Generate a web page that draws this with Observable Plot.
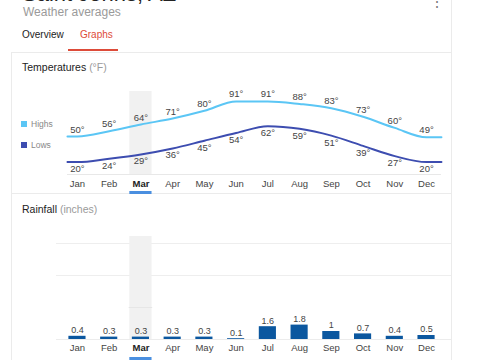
<!DOCTYPE html>
<html>
<head>
<meta charset="utf-8">
<script src="https://cdn.jsdelivr.net/npm/d3@7"></script>
<script src="https://cdn.jsdelivr.net/npm/@observablehq/plot@0.6"></script>
<style>
  html, body { margin: 0; padding: 0; background: #fff; }
  body { font-family: "Liberation Sans", Arial, sans-serif; }
  #page { position: relative; width: 480px; height: 360px; overflow: hidden; background: #fff; }
  .abs { position: absolute; white-space: nowrap; }
  #page svg { position: absolute; left: 0; overflow: visible; }
</style>
</head>
<body>
<div id="page">
  <div class="abs" style="left:22px; top:-19px; font-size:22px; color:#222;">Saint Johns, AZ</div>
  <div class="abs" style="left:430px; top:-6px; font-size:14px; color:#777;">⋮</div>
  <div class="abs" style="left:23px; top:5px; font-size:12px; color:#9a9a9a;">Weather averages</div>
  <div class="abs" style="left:22px; top:29px; font-size:10px; color:#222;">Overview</div>
  <div class="abs" style="left:80px; top:29px; font-size:10px; color:#dd4b39;">Graphs</div>
  <div class="abs" style="left:68px; top:49px; width:50px; height:2px; background:#dd4b39;"></div>
  <div class="abs" style="left:11px; top:52px; width:440px; height:1px; background:#ebebeb;"></div>
  <div class="abs" style="left:11px; top:52px; width:1px; height:308px; background:#ebebeb;"></div>
  <div class="abs" style="left:451px; top:0px; width:1px; height:360px; background:#ebebeb;"></div>
  <div class="abs" style="left:11px; top:193px; width:440px; height:1px; background:#ebebeb;"></div>

  <div class="abs" style="left:22px; top:61px; font-size:10.5px; color:#222;">Temperatures <span style="color:#9a9a9a">(°F)</span></div>
  <div class="abs" style="left:22px; top:203px; font-size:10.5px; color:#222;">Rainfall <span style="color:#9a9a9a">(inches)</span></div>

  <div id="legend"></div>
</div>
<script>
const months = ["Jan","Feb","Mar","Apr","May","Jun","Jul","Aug","Sep","Oct","Nov","Dec"];
const highs  = [50, 56, 64, 71, 80, 91, 91, 88, 83, 73, 60, 49];
const lows   = [20, 24, 29, 36, 45, 54, 62, 59, 51, 39, 27, 20];
const rain   = [0.4, 0.3, 0.3, 0.3, 0.3, 0.1, 1.6, 1.8, 1, 0.7, 0.4, 0.5];
const seriesNames = ["Highs", "Lows"];
const seriesColors = ["#5bc6f5", "#3d4db0"];
const selectedMonth = "Mar";
const rainGrid = [8, 12];

const font = '"Liberation Sans", Arial, sans-serif';
const page = document.getElementById("page");

const temp = months.map((m, i) => ({i, m, hi: highs[i], lo: lows[i]}));
const sel = temp.filter(d => d.m === selectedMonth);
const others = temp.filter(d => d.m !== selectedMonth);
const first = -0.315, last = 11.47;
const extend = (key) => [{i: first, v: temp[0][key]}, ...temp.map(d => ({i: d.i, v: d[key]})), {i: last, v: temp[temp.length - 1][key]}];

const xScale = {type: "linear", domain: [-0.5, 11.5], range: [61.1, 441.9], axis: null};
const tMin = 5.5;

const tempPlot = Plot.plot({
  width: 480, height: 110,
  marginTop: 6, marginBottom: 21, marginLeft: 0, marginRight: 0,
  x: xScale,
  y: {domain: [tMin, 102.6], axis: null},
  style: {fontFamily: font, background: "transparent", overflow: "visible"},
  marks: [
    Plot.rect(sel, {x1: d => d.i - 0.35, x2: d => d.i + 0.35, fill: "#f1f1f1"}),
    Plot.ruleY([tMin], {x1: first, x2: last, stroke: "#e8e8e8"}),
    Plot.line(extend("hi"), {x: "i", y: "v", curve: "monotone-x", stroke: seriesColors[0], strokeWidth: 2}),
    Plot.line(extend("lo"), {x: "i", y: "v", curve: "monotone-x", stroke: seriesColors[1], strokeWidth: 2}),
    Plot.text(temp, {x: "i", y: "hi", text: d => d.hi + "°", dy: -7, fontSize: 9.5, fill: "#444"}),
    Plot.text(temp, {x: "i", y: "lo", text: d => d.lo + "°", dy: 7, fontSize: 9.5, fill: "#444"}),
    Plot.text(others, {x: "i", y: tMin, text: "m", dy: 9, fontSize: 9.5, fill: "#444"}),
    Plot.text(sel, {x: "i", y: tMin, text: "m", dy: 9, fontSize: 9.5, fill: "#222", fontWeight: "bold"}),
    Plot.ruleY(sel, {y: tMin, x1: d => d.i - 0.35, x2: d => d.i + 0.35, dy: 18, stroke: "#4a8fe0", strokeWidth: 3})
  ]
});
tempPlot.style.top = "85px";
page.appendChild(tempPlot);

const rainData = months.map((m, i) => ({i, m, v: rain[i]}));
const rainSel = rainData.filter(d => d.m === selectedMonth);
const rainOthers = rainData.filter(d => d.m !== selectedMonth);

const rainPlot = Plot.plot({
  width: 480, height: 130,
  marginTop: 6, marginBottom: 21, marginLeft: 0, marginRight: 0,
  x: xScale,
  y: {domain: [0, 12.875], axis: null},
  style: {fontFamily: font, background: "transparent", overflow: "visible"},
  marks: [
    Plot.ruleY(rainGrid, {x1: -0.662, x2: 11.79, stroke: "#eeeeee"}),
    Plot.rect(rainSel, {x1: d => d.i - 0.35, x2: d => d.i + 0.35, fill: "#f1f1f1"}),
    Plot.ruleY(rainSel, {y: 4, x1: d => d.i - 0.37, x2: d => d.i + 0.37, stroke: "#e6e6e6"}),
    Plot.ruleY([0], {x1: -0.662, x2: 11.79, stroke: "#ececec"}),
    Plot.rectY(rainData, {x1: d => d.i - 0.27, x2: d => d.i + 0.27, y: "v", fill: "#0b579f"}),
    Plot.text(rainData, {x: "i", y: "v", text: d => String(d.v), dy: -6, fontSize: 9, fill: "#444"}),
    Plot.text(rainOthers, {x: "i", y: 0, text: "m", dy: 8, fontSize: 9.5, fill: "#444"}),
    Plot.text(rainSel, {x: "i", y: 0, text: "m", dy: 8, fontSize: 9.5, fill: "#222", fontWeight: "bold"}),
    Plot.ruleY(rainSel, {y: 0, x1: d => d.i - 0.35, x2: d => d.i + 0.35, dy: 19, stroke: "#4a8fe0", strokeWidth: 3})
  ]
});
rainPlot.style.top = "230px";
page.appendChild(rainPlot);

// legend
const legend = document.getElementById("legend");
seriesNames.forEach((name, k) => {
  const row = document.createElement("div");
  row.className = "abs";
  row.style.left = "21px";
  row.style.top = (119 + k * 21) + "px";
  row.style.fontSize = "8.5px";
  row.style.color = "#888";
  row.style.display = "flex";
  row.style.alignItems = "center";
  row.innerHTML = `<span style="display:inline-block;width:6px;height:6px;background:${seriesColors[k]};margin-right:4px"></span>${name}`;
  legend.appendChild(row);
});
</script>
</body>
</html>
